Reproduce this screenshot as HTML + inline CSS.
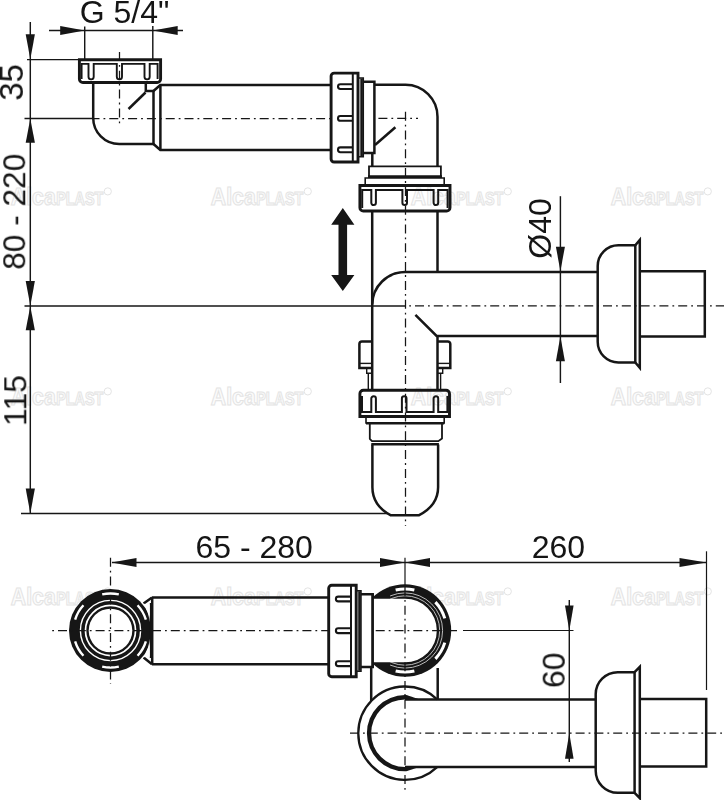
<!DOCTYPE html>
<html><head><meta charset="utf-8"><style>
html,body{margin:0;padding:0;background:#fff;width:724px;height:800px;overflow:hidden}
svg{display:block}
text{font-family:"Liberation Sans",sans-serif;fill:#151515;stroke:none}
text.r{stroke:none;fill:#151515}
</style></head><body>
<svg width="724" height="800" viewBox="0 0 724 800" stroke="#161616" fill="none" stroke-linecap="butt">
<g font-family="Liberation Sans" font-weight="bold"><text x="10.8" y="204.9" font-size="24" textLength="45" lengthAdjust="spacingAndGlyphs" style="fill:#fcfcfc;stroke:#e4e4e4;stroke-width:1.1px">Alca</text><text x="56.3" y="204.9" font-size="17.5" textLength="47" lengthAdjust="spacingAndGlyphs" style="fill:#fcfcfc;stroke:#e4e4e4;stroke-width:1.1px">PLAST</text><circle cx="107.8" cy="191.4" r="3.6" style="fill:none;stroke:#e4e4e4;stroke-width:1px"/></g>
<g font-family="Liberation Sans" font-weight="bold"><text x="210.8" y="204.9" font-size="24" textLength="45" lengthAdjust="spacingAndGlyphs" style="fill:#fcfcfc;stroke:#e4e4e4;stroke-width:1.1px">Alca</text><text x="256.3" y="204.9" font-size="17.5" textLength="47" lengthAdjust="spacingAndGlyphs" style="fill:#fcfcfc;stroke:#e4e4e4;stroke-width:1.1px">PLAST</text><circle cx="307.8" cy="191.4" r="3.6" style="fill:none;stroke:#e4e4e4;stroke-width:1px"/></g>
<g font-family="Liberation Sans" font-weight="bold"><text x="410.8" y="204.9" font-size="24" textLength="45" lengthAdjust="spacingAndGlyphs" style="fill:#fcfcfc;stroke:#e4e4e4;stroke-width:1.1px">Alca</text><text x="456.3" y="204.9" font-size="17.5" textLength="47" lengthAdjust="spacingAndGlyphs" style="fill:#fcfcfc;stroke:#e4e4e4;stroke-width:1.1px">PLAST</text><circle cx="507.8" cy="191.4" r="3.6" style="fill:none;stroke:#e4e4e4;stroke-width:1px"/></g>
<g font-family="Liberation Sans" font-weight="bold"><text x="610.8" y="204.9" font-size="24" textLength="45" lengthAdjust="spacingAndGlyphs" style="fill:#fcfcfc;stroke:#e4e4e4;stroke-width:1.1px">Alca</text><text x="656.3" y="204.9" font-size="17.5" textLength="47" lengthAdjust="spacingAndGlyphs" style="fill:#fcfcfc;stroke:#e4e4e4;stroke-width:1.1px">PLAST</text><circle cx="707.8" cy="191.4" r="3.6" style="fill:none;stroke:#e4e4e4;stroke-width:1px"/></g>
<g font-family="Liberation Sans" font-weight="bold"><text x="10.8" y="404.9" font-size="24" textLength="45" lengthAdjust="spacingAndGlyphs" style="fill:#fcfcfc;stroke:#e4e4e4;stroke-width:1.1px">Alca</text><text x="56.3" y="404.9" font-size="17.5" textLength="47" lengthAdjust="spacingAndGlyphs" style="fill:#fcfcfc;stroke:#e4e4e4;stroke-width:1.1px">PLAST</text><circle cx="107.8" cy="391.4" r="3.6" style="fill:none;stroke:#e4e4e4;stroke-width:1px"/></g>
<g font-family="Liberation Sans" font-weight="bold"><text x="210.8" y="404.9" font-size="24" textLength="45" lengthAdjust="spacingAndGlyphs" style="fill:#fcfcfc;stroke:#e4e4e4;stroke-width:1.1px">Alca</text><text x="256.3" y="404.9" font-size="17.5" textLength="47" lengthAdjust="spacingAndGlyphs" style="fill:#fcfcfc;stroke:#e4e4e4;stroke-width:1.1px">PLAST</text><circle cx="307.8" cy="391.4" r="3.6" style="fill:none;stroke:#e4e4e4;stroke-width:1px"/></g>
<g font-family="Liberation Sans" font-weight="bold"><text x="410.8" y="404.9" font-size="24" textLength="45" lengthAdjust="spacingAndGlyphs" style="fill:#fcfcfc;stroke:#e4e4e4;stroke-width:1.1px">Alca</text><text x="456.3" y="404.9" font-size="17.5" textLength="47" lengthAdjust="spacingAndGlyphs" style="fill:#fcfcfc;stroke:#e4e4e4;stroke-width:1.1px">PLAST</text><circle cx="507.8" cy="391.4" r="3.6" style="fill:none;stroke:#e4e4e4;stroke-width:1px"/></g>
<g font-family="Liberation Sans" font-weight="bold"><text x="610.8" y="404.9" font-size="24" textLength="45" lengthAdjust="spacingAndGlyphs" style="fill:#fcfcfc;stroke:#e4e4e4;stroke-width:1.1px">Alca</text><text x="656.3" y="404.9" font-size="17.5" textLength="47" lengthAdjust="spacingAndGlyphs" style="fill:#fcfcfc;stroke:#e4e4e4;stroke-width:1.1px">PLAST</text><circle cx="707.8" cy="391.4" r="3.6" style="fill:none;stroke:#e4e4e4;stroke-width:1px"/></g>
<g font-family="Liberation Sans" font-weight="bold"><text x="10.8" y="604.9" font-size="24" textLength="45" lengthAdjust="spacingAndGlyphs" style="fill:#fcfcfc;stroke:#e4e4e4;stroke-width:1.1px">Alca</text><text x="56.3" y="604.9" font-size="17.5" textLength="47" lengthAdjust="spacingAndGlyphs" style="fill:#fcfcfc;stroke:#e4e4e4;stroke-width:1.1px">PLAST</text><circle cx="107.8" cy="591.4" r="3.6" style="fill:none;stroke:#e4e4e4;stroke-width:1px"/></g>
<g font-family="Liberation Sans" font-weight="bold"><text x="210.8" y="604.9" font-size="24" textLength="45" lengthAdjust="spacingAndGlyphs" style="fill:#fcfcfc;stroke:#e4e4e4;stroke-width:1.1px">Alca</text><text x="256.3" y="604.9" font-size="17.5" textLength="47" lengthAdjust="spacingAndGlyphs" style="fill:#fcfcfc;stroke:#e4e4e4;stroke-width:1.1px">PLAST</text><circle cx="307.8" cy="591.4" r="3.6" style="fill:none;stroke:#e4e4e4;stroke-width:1px"/></g>
<g font-family="Liberation Sans" font-weight="bold"><text x="410.8" y="604.9" font-size="24" textLength="45" lengthAdjust="spacingAndGlyphs" style="fill:#fcfcfc;stroke:#e4e4e4;stroke-width:1.1px">Alca</text><text x="456.3" y="604.9" font-size="17.5" textLength="47" lengthAdjust="spacingAndGlyphs" style="fill:#fcfcfc;stroke:#e4e4e4;stroke-width:1.1px">PLAST</text><circle cx="507.8" cy="591.4" r="3.6" style="fill:none;stroke:#e4e4e4;stroke-width:1px"/></g>
<g font-family="Liberation Sans" font-weight="bold"><text x="610.8" y="604.9" font-size="24" textLength="45" lengthAdjust="spacingAndGlyphs" style="fill:#fcfcfc;stroke:#e4e4e4;stroke-width:1.1px">Alca</text><text x="656.3" y="604.9" font-size="17.5" textLength="47" lengthAdjust="spacingAndGlyphs" style="fill:#fcfcfc;stroke:#e4e4e4;stroke-width:1.1px">PLAST</text><circle cx="707.8" cy="591.4" r="3.6" style="fill:none;stroke:#e4e4e4;stroke-width:1px"/></g>
<g style="will-change:transform"><text x="124.6" y="22.8" font-size="32" text-anchor="middle">G 5/4"</text></g>
<line x1="49" y1="30.5" x2="183" y2="30.5" stroke-width="1.45" />
<polygon points="60.2,26.1 60.2,34.9 84.7,30.5" fill="#161616" stroke="none" />
<polygon points="177.70000000000002,26.1 177.70000000000002,34.9 152.8,30.5" fill="#161616" stroke="none" />
<line x1="84.7" y1="26.5" x2="84.7" y2="59" stroke-width="1.45" />
<line x1="152.8" y1="26" x2="152.8" y2="59" stroke-width="1.45" />
<line x1="30.3" y1="22" x2="30.3" y2="513.5" stroke-width="1.45" />
<line x1="27" y1="59.6" x2="80" y2="59.6" stroke-width="1.45" />
<line x1="24.5" y1="118.5" x2="93" y2="118.5" stroke-width="1.45" />
<line x1="24.5" y1="306" x2="405" y2="306" stroke-width="1.45" />
<line x1="21" y1="513.5" x2="387" y2="513.5" stroke-width="1.45" />
<polygon points="25.700000000000003,34.3 34.9,34.3 30.3,59.3" fill="#161616" stroke="none" />
<polygon points="25.700000000000003,142.7 34.9,142.7 30.3,118.7" fill="#161616" stroke="none" />
<polygon points="25.700000000000003,281.0 34.9,281.0 30.3,305.8" fill="#161616" stroke="none" />
<polygon points="25.700000000000003,330.2 34.9,330.2 30.3,306.2" fill="#161616" stroke="none" />
<polygon points="25.700000000000003,488.5 34.9,488.5 30.3,513.5" fill="#161616" stroke="none" />
<g style="will-change:transform"><text x="23.3" y="82.4" font-size="33" text-anchor="middle" transform="rotate(-90 23.3 82.4)" class="r">35</text></g>
<g style="will-change:transform"><text x="25" y="211.75" font-size="31.6" text-anchor="middle" transform="rotate(-90 25 211.75)" class="r">80 - 220</text></g>
<g style="will-change:transform"><text x="25.8" y="400.5" font-size="32" text-anchor="middle" transform="rotate(-90 25.8 400.5)" class="r">115</text></g>
<path d="M79.4,59.7 H160.6 V79 A3.5,3.5 0 0 1 157.1,82.5 H82.9 A3.5,3.5 0 0 1 79.4,79 Z" stroke-width="2.9" fill="none" />
<path d="M81.6,79 V63.9 H88.5 V76.8 A2.6,2.6 0 0 0 93.7,76.8 V63.9 H116.8 V76.8 A2.6,2.6 0 0 0 122.0,76.8 V63.9 H144.5 V76.8 A2.6,2.6 0 0 0 149.7,76.8 V63.9 H157.6 V79" stroke-width="1.9" fill="none" />
<path d="M93.2,82.5 V118 A26,26 0 0 0 119.2,144 H153.5 V91 H145.8 V82.5" stroke-width="2.5" fill="none" />
<path d="M153.5,91 L160.3,85 H331" stroke-width="2.5" fill="none" />
<path d="M153.5,144 L160.3,150 H331" stroke-width="2.5" fill="none" />
<line x1="160.4" y1="85" x2="160.4" y2="150" stroke-width="2.5" />
<line x1="128.5" y1="109" x2="145.5" y2="92.5" stroke-width="2.5" />
<line x1="93" y1="118.5" x2="331" y2="118.5" stroke-width="1.25" stroke-dasharray="9.0 4.0 1.8 4.0" stroke-dashoffset="2.50"/>
<line x1="119.5" y1="52" x2="119.5" y2="126" stroke-width="1.25" stroke-dasharray="9.0 4.0 1.8 4.0" stroke-dashoffset="0.00"/>
<path d="M334.1,73.1 H358 V162 H334.1 A3,3 0 0 1 331.1,159 V76.1 A3,3 0 0 1 334.1,73.1 Z" stroke-width="2.9" fill="none" />
<line x1="352.8" y1="73.1" x2="352.8" y2="162" stroke-width="2.0" />
<path d="M352.8,84.19999999999999 H340.4 A2.4,2.4 0 0 0 340.4,89.0 H352.8" stroke-width="2.1" fill="none" />
<path d="M352.8,116.0 H340.4 A2.4,2.4 0 0 0 340.4,120.80000000000001 H352.8" stroke-width="2.1" fill="none" />
<path d="M352.8,147.4 H340.4 A2.4,2.4 0 0 0 340.4,152.20000000000002 H352.8" stroke-width="2.1" fill="none" />
<path d="M358,78.1 H363.3 V156.8 H358" stroke-width="1.5" fill="none" />
<line x1="361.6" y1="78.5" x2="361.6" y2="156.4" stroke-width="2.6" />
<path d="M363.3,81.8 H374.4 V152.9 H363.3" stroke-width="2.5" fill="none" />
<path d="M374.4,84.75 H405.5 A32,32 0 0 1 437.5,116.75 V166.5" stroke-width="2.5" fill="none" />
<path d="M372.3,152.9 V166.5" stroke-width="2.5" fill="none" />
<line x1="375" y1="145" x2="395.4" y2="127.3" stroke-width="2.5" />
<line x1="374.4" y1="118.3" x2="418" y2="118.3" stroke-width="1.25" stroke-dasharray="9.0 4.0 1.8 4.0" stroke-dashoffset="14.80"/>
<line x1="405.5" y1="111.7" x2="405.5" y2="526" stroke-width="1.25" stroke-dasharray="9.0 4.0 1.8 4.0" stroke-dashoffset="0.00"/>
<path d="M369,176.5 V166.3 H440.9 V176.5" stroke-width="1.8" fill="none" />
<line x1="368" y1="176.6" x2="442" y2="176.6" stroke-width="2.8" />
<path d="M365.2,185.2 V178 H444.2 V185.2" stroke-width="1.6" fill="none" />
<path d="M359.9,185.5 H450 V207.5 A3.4,3.4 0 0 1 446.6,211 H363.3 A3.4,3.4 0 0 1 359.9,207.5 Z" stroke-width="2.9" fill="none" />
<path d="M362.2,208 V190 H371.3 V202.8 A2.3,2.3 0 0 0 375.9,202.8 V190 H402.4 V202.8 A2.3,2.3 0 0 0 407.0,202.8 V190 H433.6 V202.8 A2.3,2.3 0 0 0 438.2,202.8 V190 H447.6 V208" stroke-width="2.0" fill="none" />
<line x1="372.2" y1="211" x2="372.2" y2="390.3" stroke-width="2.5" />
<line x1="437.5" y1="211" x2="437.5" y2="271.5" stroke-width="2.5" />
<path d="M372.2,304.5 A33,33 0 0 1 405.2,272 H597.7" stroke-width="2.5" fill="none" />
<path d="M415.4,314.8 L436.6,336 H597.7" stroke-width="2.5" fill="none" />
<line x1="437.5" y1="336" x2="437.5" y2="390.3" stroke-width="2.5" />
<line x1="405" y1="305.8" x2="724" y2="305.8" stroke-width="1.25" stroke-dasharray="9.0 4.0 1.8 4.0" stroke-dashoffset="8.80"/>
<polygon points="342.8,208.1 354.4,224.8 347.1,224.8 347.1,275 354.4,275 342.8,290.9 331.2,275 338.5,275 338.5,224.8 331.2,224.8" fill="#161616" stroke="none" />
<path d="M371.3,341.4 H362 A2.6,2.6 0 0 0 359.4,344 V368 H371.3" stroke-width="2.5" fill="none" />
<line x1="359.4" y1="363.4" x2="371.3" y2="363.4" stroke-width="1.4" />
<path d="M366.7,368 V373.3 H371.3" stroke-width="1.4" fill="none" />
<line x1="368.3" y1="373.3" x2="368.3" y2="390.3" stroke-width="1.4" />
<path d="M437.8,341.4 H447.7 A2.6,2.6 0 0 1 450.3,344 V368 H437.8" stroke-width="2.5" fill="none" />
<line x1="437.8" y1="363.4" x2="450.3" y2="363.4" stroke-width="1.4" />
<path d="M442.7,368 V373.3 H437.8" stroke-width="1.4" fill="none" />
<line x1="440.6" y1="373.3" x2="440.6" y2="390.3" stroke-width="1.4" />
<path d="M363.3,390.3 H446.1 A3.4,3.4 0 0 1 449.5,393.7 V416.5 H359.9 V393.7 A3.4,3.4 0 0 1 363.3,390.3 Z" stroke-width="2.9" fill="none" />
<path d="M362,396 V411.9 H371.3 V398.6 A2.3,2.3 0 0 1 375.9,398.6 V411.9 H401.9 V398.6 A2.3,2.3 0 0 1 406.5,398.6 V411.9 H433.6 V398.6 A2.3,2.3 0 0 1 438.2,398.6 V411.9 H447.4 V396" stroke-width="2.0" fill="none" />
<line x1="359.9" y1="416.6" x2="449.5" y2="416.6" stroke-width="2.6" />
<path d="M366,418 V423 H444.2 V418" stroke-width="1.6" fill="none" />
<line x1="366" y1="423.2" x2="444.2" y2="423.2" stroke-width="2.4" />
<path d="M369.8,424 V439 L372,441.2 H438.3 L442,438.5 V424" stroke-width="1.8" fill="none" />
<line x1="371.3" y1="444.3" x2="438.9" y2="444.3" stroke-width="2.6" />
<path d="M372.4,444.5 V487.3 C372.4,499 379,509 390.5,515.2 H419.1 C431,509 438.1,499 438.1,487.3 V444.5" stroke-width="2.5" fill="none" />
<path d="M597.7,266.0 A20.7,20.7 0 0 1 618.4000000000001,245.3 H635.3 V362.5 H618.4000000000001 A20.7,20.7 0 0 1 597.7,341.8 Z" stroke-width="2.5" fill="none" />
<path d="M635.3,245.3 L639.8,239.9 V367.9 L635.3,362.5" stroke-width="2.5" fill="none" />
<path d="M639.8,271.3 H704.8 V336.5 H639.8" stroke-width="2.5" fill="none" />
<line x1="560.4" y1="196.2" x2="560.4" y2="383" stroke-width="1.45" />
<polygon points="555.9,246.8 564.9,246.8 560.4,271.3" fill="#161616" stroke="none" />
<polygon points="555.9,361.2 564.9,361.2 560.4,336.2" fill="#161616" stroke="none" />
<g style="will-change:transform"><text x="550.5" y="228.5" font-size="32" text-anchor="middle" transform="rotate(-90 550.5 228.5)" class="r">Ø40</text></g>
<line x1="112" y1="562.4" x2="706.5" y2="562.4" stroke-width="1.45" />
<polygon points="136.5,558.1 136.5,566.9 111.5,562.5" fill="#161616" stroke="none" />
<polygon points="380,557.9 380,566.9 405,562.4" fill="#161616" stroke="none" />
<polygon points="430,557.9 430,566.9 405,562.4" fill="#161616" stroke="none" />
<polygon points="679.5,557.9 679.5,566.9 706.5,562.4" fill="#161616" stroke="none" />
<g style="will-change:transform"><text x="254.2" y="558.3" font-size="32" text-anchor="middle">65 - 280</text></g>
<g style="will-change:transform"><text x="558.4" y="558.2" font-size="32" text-anchor="middle">260</text></g>
<line x1="405" y1="557.8" x2="405" y2="585" stroke-width="1.2" />
<line x1="706.5" y1="551.3" x2="706.5" y2="690" stroke-width="1.2" />
<circle cx="110.5" cy="630.5" r="41.5" fill="#161616" stroke="none"/>
<circle cx="110.5" cy="630.5" r="30.1" fill="none" stroke="#fff" stroke-width="1.4"/>
<circle cx="110.5" cy="630.5" r="25.05" fill="none" stroke="#fff" stroke-width="1.7"/>
<circle cx="110.5" cy="630.5" r="21.8" fill="#fff" stroke="none"/>
<path d="M145.88,619.68 A37,37 0 0 0 137.56,605.27" fill="none" stroke="#fff" stroke-width="2.4"/>
<path d="M118.82,594.45 A37,37 0 0 0 102.18,594.45" fill="none" stroke="#fff" stroke-width="2.4"/>
<path d="M83.44,605.27 A37,37 0 0 0 75.12,619.68" fill="none" stroke="#fff" stroke-width="2.4"/>
<path d="M75.12,641.32 A37,37 0 0 0 83.44,655.73" fill="none" stroke="#fff" stroke-width="2.4"/>
<path d="M102.18,666.55 A37,37 0 0 0 118.82,666.55" fill="none" stroke="#fff" stroke-width="2.4"/>
<path d="M137.56,655.73 A37,37 0 0 0 145.88,641.32" fill="none" stroke="#fff" stroke-width="2.4"/>
<path d="M143.6,603.6 L152,597.6 M143.6,657.5 L152,664.2" stroke-width="2.5" fill="none" />
<line x1="151" y1="603" x2="151" y2="658" stroke-width="2.4" />
<path d="M143.6,603.8 L149.6,604.5 L149.6,622 A41.5,41.5 0 0 0 143.6,603.8 Z" fill="#fff" stroke="none"/>
<path d="M143.6,657.2 L149.6,656.5 L149.6,639 A41.5,41.5 0 0 1 143.6,657.2 Z" fill="#fff" stroke="none"/>
<path d="M152,597.6 H328.7 M152,664.2 H328.7" stroke-width="2.5" fill="none" />
<line x1="152.2" y1="597.6" x2="152.2" y2="664.2" stroke-width="2.5" />
<line x1="50" y1="630.5" x2="328" y2="630.5" stroke-width="1.25" stroke-dasharray="9.0 4.0 1.8 4.0" stroke-dashoffset="10.80"/>
<line x1="110.5" y1="557.8" x2="110.5" y2="684" stroke-width="1.25" stroke-dasharray="9.0 4.0 1.8 4.0" stroke-dashoffset="0.00"/>
<path d="M331.7,585.3 H356.2 V676.7 H331.7 A3,3 0 0 1 328.7,673.7 V588.3 A3,3 0 0 1 331.7,585.3 Z" stroke-width="2.9" fill="none" />
<line x1="351" y1="585.3" x2="351" y2="676.7" stroke-width="2.0" />
<path d="M351,596.6 H338.3 A2.4,2.4 0 0 0 338.3,601.4 H351" stroke-width="2.1" fill="none" />
<path d="M351,628.3000000000001 H338.3 A2.4,2.4 0 0 0 338.3,633.1 H351" stroke-width="2.1" fill="none" />
<path d="M351,661.3000000000001 H338.3 A2.4,2.4 0 0 0 338.3,666.1 H351" stroke-width="2.1" fill="none" />
<path d="M356.2,590.8 H361 V671.2 H356.2" stroke-width="1.5" fill="none" />
<line x1="359.5" y1="591.2" x2="359.5" y2="670.8" stroke-width="2.6" />
<path d="M361,594.2 H372.7 V667.1 H361" stroke-width="2.5" fill="none" />
<clipPath id="cpE"><rect x="372.7" y="560" width="100" height="140"/></clipPath>
<g clip-path="url(#cpE)">
<circle cx="405" cy="630.5" r="46.2" fill="#161616" stroke="none"/>
<clipPath id="cpR"><rect x="390" y="560" width="100" height="140"/></clipPath>
<g clip-path="url(#cpR)"><circle cx="405" cy="630.5" r="37.6" fill="none" stroke="#bbb" stroke-width="1.0"/><circle cx="405" cy="630.5" r="34.7" fill="none" stroke="#bbb" stroke-width="1.0"/></g>
<path d="M372.7,598.7 H405 A31.8,31.8 0 0 1 405,662.3 H372.7 Z" fill="#fff" stroke="none"/>
<path d="M444.78,618.34 A41.6,41.6 0 0 0 435.42,602.13" fill="none" stroke="#fff" stroke-width="3.0"/>
<path d="M414.36,589.97 A41.6,41.6 0 0 0 395.64,589.97" fill="none" stroke="#fff" stroke-width="3.0"/>
<path d="M395.64,671.03 A41.6,41.6 0 0 0 414.36,671.03" fill="none" stroke="#fff" stroke-width="3.0"/>
<path d="M435.42,658.87 A41.6,41.6 0 0 0 444.78,642.66" fill="none" stroke="#fff" stroke-width="3.0"/>
</g>
<line x1="372.7" y1="594" x2="372.7" y2="667.1" stroke-width="2.5" />
<line x1="372.7" y1="630.5" x2="457" y2="630.5" stroke-width="1.25" stroke-dasharray="9.0 4.0 1.8 4.0" stroke-dashoffset="15.80"/>
<line x1="463" y1="630.5" x2="573.5" y2="630.5" stroke-width="1.2" />
<line x1="405" y1="585" x2="405" y2="790" stroke-width="1.25" stroke-dasharray="9.0 4.0 1.8 4.0" stroke-dashoffset="16.80"/>
<line x1="371.2" y1="667.1" x2="371.2" y2="701" stroke-width="2.5" />
<line x1="437.7" y1="668" x2="437.7" y2="699.3" stroke-width="2.5" />
<path d="M437.1,699.3 A46.7,46.7 0 1 0 437.1,767.1" stroke-width="2.3" fill="none" />
<path d="M419,699.3 C411,697 408,695.1 405,695.1 A38.1,38.1 0 0 0 405,771.3 C408,771.3 411,769.5 419,767 L405,767 A33.8,33.8 0 0 1 405,699.4 Z" fill="#161616" stroke="none"/>
<path d="M405,699.5 H595.7 M405,766.9 H595.7" stroke-width="2.5" fill="none" />
<line x1="350" y1="733.2" x2="724" y2="733.2" stroke-width="1.25" stroke-dasharray="9.0 4.0 1.8 4.0" stroke-dashoffset="0.00"/>
<path d="M595.7,694.2 A22,22 0 0 1 617.7,672.2 H634.6 V792.8 H617.7 A22,22 0 0 1 595.7,770.8 Z" stroke-width="2.5" fill="none" />
<path d="M634.6,672.2 L639.8,666.8000000000001 V798.1999999999999 L634.6,792.8" stroke-width="2.5" fill="none" />
<path d="M639.8,699.1 H706.2 V766.5 H639.8" stroke-width="2.5" fill="none" />
<line x1="569.3" y1="600" x2="569.3" y2="762" stroke-width="1.45" />
<polygon points="565.0,605.6 573.5999999999999,605.6 569.3,630.4" fill="#161616" stroke="none" />
<polygon points="565.0,758.8000000000001 573.5999999999999,758.8000000000001 569.3,733.2" fill="#161616" stroke="none" />
<g style="will-change:transform"><text x="565" y="670.3" font-size="32" text-anchor="middle" transform="rotate(-90 565 670.3)" class="r">60</text></g>
</svg></body></html>
